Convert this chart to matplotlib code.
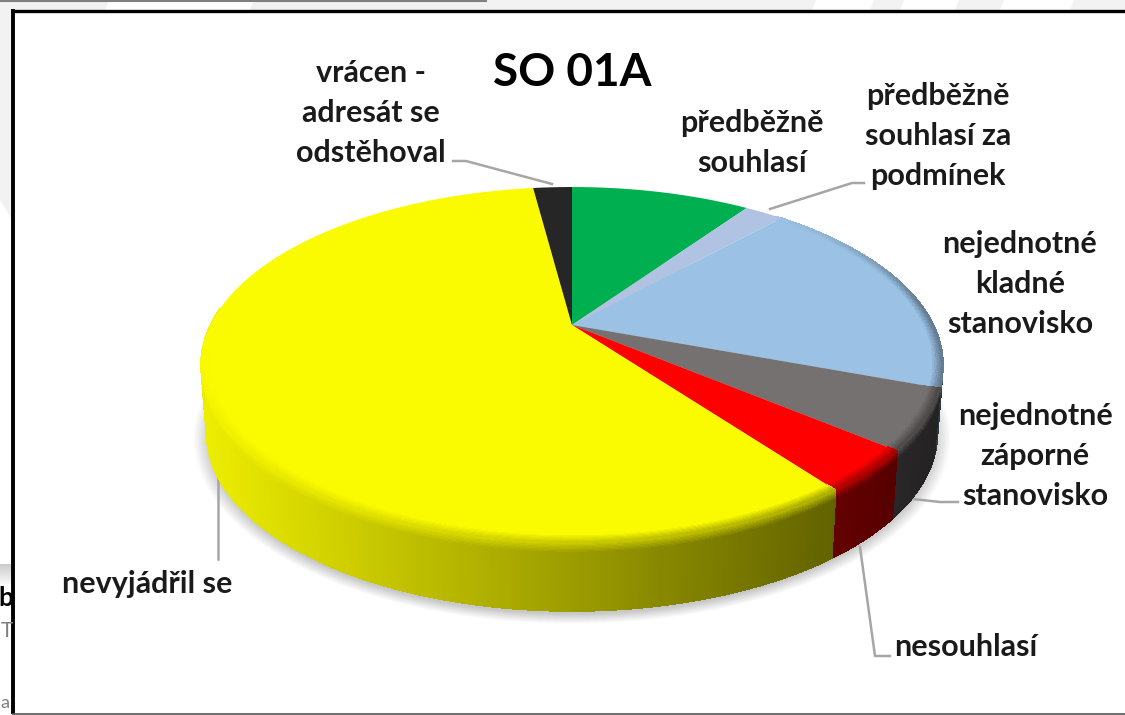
import numpy as np
import matplotlib
matplotlib.use("Agg")
import matplotlib.pyplot as plt
from matplotlib.collections import PolyCollection
from matplotlib.colors import to_rgb

plt.rcParams['font.family'] = ['Lato', 'DejaVu Sans']

TITLE = "SO 01A"
LABELS = ["předběžně\nsouhlasí", "předběžně\nsouhlasí za\npodmínek",
          "nejednotné\nkladné\nstanovisko", "nejednotné\nzáporné\nstanovisko",
          "nesouhlasí", "nevyjádřil se", "vrácen -\nadresát se\nodstěhoval"]
VALUES = [9.7, 2.1, 18.8, 5.4, 3.8, 58.1, 2.1]
COLORS = ["#00B050", "#B0C3E2", "#9BC1E4", "#767171", "#FF0000", "#FAFA00", "#262626"]

# layout, in picture pixels
LABEL_XY = [(752, 143), (938, 136), (1020, 284), (1035, 456), (966, 647), (147, 584), (371, 113)]
LEADERS = [None,
           [(864, 183), (852, 183), (770, 209)],
           None,
           [(958, 502), (940, 502), (913, 499)],
           [(890, 656), (875, 656), (860, 547)],
           [(218, 559), (218, 470)],
           [(453, 161), (466, 161), (552, 184)]]

CX, CY = 572, 325   # where the slices meet
A, B, K = 361.5, 169.0, 0.2248   # perspective of the disc
DEPTH = 68.0


def top_xy(r, t):
    u, v = r * np.cos(t), r * np.sin(t)
    w = 1 + K * v
    return CX + A * u / w, CY - B * v / w


def bottom_xy(t):
    x, y = top_xy(1.0, t)
    return CX + (x - CX) * 0.985, y + DEPTH


def shade(x):
    s = np.clip((x - 200) / 743, 0, 1)
    return 0.95 - 0.65 * s


fig = plt.figure(figsize=(11.25, 7.15), dpi=100, facecolor="white")
ax = fig.add_axes([0, 0, 1, 1])
ax.set_xlim(0, 1125)
ax.set_ylim(715, 0)
ax.axis("off")

# screenshot leftovers round the chart frame
ax.fill([0, 1125, 1125, 0], [0, 0, 10, 10], color="#f2f2f2", lw=0)
for x0, x1 in [(105, 250), (812, 870), (900, 955), (1000, 1070)]:
    ax.fill([x0 + 4, x1 + 4, x1, x0], [0, 0, 10, 10], color="white", lw=0)
ax.plot([0, 486], [0.5, 0.5], color="#808080", lw=1.5)
ax.fill([0, 12, 12, 0], [10, 10, 220, 200], color="#f2f2f2", lw=0)
ax.imshow(np.linspace(0.8, 0.97, 20)[:, None], cmap="gray", vmin=0, vmax=1,
          extent=(0, 12, 584, 564), aspect="auto")
ax.set_xlim(0, 1125)
ax.set_ylim(715, 0)
ax.text(-2, 598, "b", fontsize=19, fontweight="bold", va="center", color="black")
ax.text(1, 631, "T", fontsize=15, va="center", color="#7f7f7f")
ax.text(0, 703, "a", fontsize=13, va="center", color="#7f7f7f")

# white chart area with frame
ax.fill([13, 1125, 1125, 13], [11, 11, 713, 713], color="white", lw=0, zorder=1)
ax.plot([13, 13], [9, 714], color="black", lw=2.8, zorder=2, solid_capstyle="butt")
ax.plot([12, 1125], [10.5, 10.5], color="black", lw=2.4, zorder=2, solid_capstyle="butt")
ax.plot([12, 1125], [713.5, 713.5], color="#555555", lw=1.2, zorder=2, solid_capstyle="butt")

# soft shadow under the disc
tt = np.linspace(0, 2 * np.pi, 361)
bx, by = bottom_xy(tt)
for grow in np.linspace(1.035, 0.99, 14):
    ax.fill(CX + (bx - CX) * grow, by + 5 + (by - 430) * (grow - 1) * 1.2,
            color="black", alpha=0.014, lw=0, zorder=3)

# leader lines
for line in LEADERS:
    if line is not None:
        ax.plot(*zip(*line), color="#a6a6a6", lw=1.8, zorder=4, solid_joinstyle="round")

# angles of the slices, clockwise from the top
edges = np.pi / 2 - 2 * np.pi * np.concatenate([[0], np.cumsum(VALUES)]) / np.sum(VALUES)

# thin part of the blue wall showing behind the grey one
ts = np.linspace(edges[3], edges[4] + 0.25, 40)
x, y = top_xy(1.0, ts)
bx, by = bottom_xy(ts)
ax.fill(np.r_[x + 2, (x + (bx - x) * 0.75 + 2)[::-1]], np.r_[y, (y + (by - y) * 0.75)[::-1]],
        color="#5f86ad", lw=0, zorder=4)

# side wall
polys, cols = [], []
levels = np.concatenate([np.linspace(0, 0.16, 9), [1.0]])
for i, c in enumerate(COLORS):
    rgb = np.array(to_rgb(c))
    ts = np.arange(edges[i], edges[i + 1], -np.radians(0.5))
    ts = np.append(ts, edges[i + 1])
    for t0, t1 in zip(ts[:-1], ts[1:]):
        if np.sin(t0) > 0.1 and np.sin(t1) > 0.1:
            continue
        x0, y0 = top_xy(1.0, t0)
        x1, y1 = top_xy(1.0, t1)
        bx0, by0 = bottom_xy(t0)
        bx1, by1 = bottom_xy(t1)
        side = rgb * shade(x0)
        for d0, d1 in zip(levels[:-1], levels[1:]):
            q = [(x0 + (bx0 - x0) * d0, y0 + (by0 - y0) * d0),
                 (x1 + (bx1 - x1) * d0, y1 + (by1 - y1) * d0),
                 (x1 + (bx1 - x1) * d1, y1 + (by1 - y1) * d1),
                 (x0 + (bx0 - x0) * d1, y0 + (by0 - y0) * d1)]
            m = min(d0 / 0.14, 1.0)
            polys.append(q)
            cols.append(rgb * (1 - m) * 0.5 + side * (0.5 + 0.5 * m))
ax.add_collection(PolyCollection(polys, facecolors=cols, edgecolors=cols, linewidths=0.5,
                                 antialiaseds=False, zorder=5))

# top face
for i, c in enumerate(COLORS):
    ts = np.linspace(edges[i], edges[i + 1], 200)
    x, y = top_xy(1.0, ts)
    ax.fill(np.r_[CX, x], np.r_[CY, y], color=c, lw=0, zorder=6)

# bevel ring at the rim of the top face, none on the upper left
polys, cols = [], []
radii = np.linspace(0.975, 1.0, 7)
for i, c in enumerate(COLORS):
    rgb = np.array(to_rgb(c))
    ts = np.arange(edges[i], edges[i + 1], -np.radians(0.5))
    ts = np.append(ts, edges[i + 1])
    for t0, t1 in zip(ts[:-1], ts[1:]):
        if np.cos(t0) > 0:
            front = np.clip((0.75 - np.sin(t0)) / 0.6, 0, 1)
        else:
            front = np.clip((-0.1 - np.sin(t0)) / 0.4, 0, 1)
        if front == 0:
            continue
        x0, y0 = top_xy(1.0, t0)
        side = rgb * shade(x0)
        for r0, r1 in zip(radii[:-1], radii[1:]):
            a0, b0 = top_xy(r0, t0)
            a1, b1 = top_xy(r0, t1)
            a2, b2 = top_xy(r1, t1)
            a3, b3 = top_xy(r1, t0)
            m = front * (r1 - 0.975) / 0.025 * 0.5
            polys.append([(a0, b0), (a1, b1), (a2, b2), (a3, b3)])
            cols.append(rgb * (1 - m) + side * m)
ax.add_collection(PolyCollection(polys, facecolors=cols, edgecolors=cols, linewidths=0.4,
                                 antialiaseds=False, zorder=7))

# texts
ax.text(572, 73, TITLE, fontsize=33, fontweight="bold", ha="center", va="center",
        color="black", zorder=8)
for lab, (x, y) in zip(LABELS, LABEL_XY):
    ax.text(x, y, lab, fontsize=22, fontweight="bold", ha="center", va="center",
            color="#1a1a1a", linespacing=1.54, zorder=8)

fig.savefig("out.png", dpi=100)
